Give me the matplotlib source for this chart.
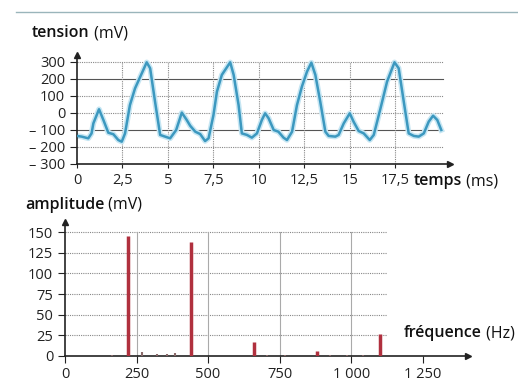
import matplotlib
matplotlib.use("Agg")
import matplotlib.pyplot as plt
from matplotlib.text import Annotation

# ---- data ----
t_ms = [0.0, 0.26, 0.62, 0.80, 0.90, 1.21, 1.45, 1.72, 2.00, 2.27, 2.46, 2.64, 2.91, 3.19, 3.56, 3.83,
        4.02, 4.29, 4.57, 4.84, 5.12, 5.45, 5.76, 6.03, 6.22, 6.50, 6.77, 7.04, 7.23, 7.50, 7.69, 7.96,
        8.42, 8.61, 8.88, 9.06, 9.34, 9.61, 9.89, 10.16, 10.34, 10.53, 10.81, 11.07, 11.35, 11.54, 11.82,
        12.09, 12.36, 12.64, 12.88, 13.10, 13.37, 13.65, 13.83, 14.20, 14.38, 14.66, 14.99, 15.20, 15.48,
        15.76, 16.09, 16.31, 16.68, 17.04, 17.45, 17.68, 17.96, 18.23, 18.51, 18.78, 19.06, 19.33, 19.57,
        19.80, 20.02]
tension_mV = [-135, -139, -149, -120, -61, 22, -41, -116, -125, -159, -169, -120, 47, 145, 233, 298,
              263, 66, -129, -139, -149, -100, 2, -41, -75, -110, -124, -165, -149, -12, 125, 224,
              298, 224, 47, -120, -129, -145, -120, -41, -2, -31, -100, -110, -145, -159, -110,
              47, 155, 243, 296, 224, 66, -110, -135, -139, -129, -61, -2, -51, -106,
              -120, -159, -129, 27, 184, 298, 263, 66, -120, -135, -139, -120, -51, -16,
              -41, -100]

freq_Hz = [220, 440, 660, 880, 1100]
amp_mV = [145, 138, 17, 6, 27]
noise_freq_Hz = [165, 270, 320, 355, 385, 705, 770, 925, 985, 1040]
noise_amp_mV = [1, 4, 2, 2, 3, 1, 1, 1, 1, 1]

top_yticks = [-300, -200, -100, 0, 100, 200, 300]
top_yticklabels = ["– 300", "– 200", "– 100", "0", "100", "200", "300"]
top_xticks = [0, 2.5, 5, 7.5, 10, 12.5, 15, 17.5]
top_xticklabels = ["0", "2,5", "5", "7,5", "10", "12,5", "15", "17,5"]
bot_yticks = [0, 25, 50, 75, 100, 125, 150]
bot_xticks = [0, 250, 500, 750, 1000, 1250]
bot_xticklabels = ["0", "250", "500", "750", "1 000", "1 250"]

plt.rcParams['font.family'] = ['Open Sans', 'DejaVu Sans']

W, H = 518, 385
fig = plt.figure(figsize=(W / 100, H / 100), dpi=100)

def frac(x0, y0, x1, y1):
    return [x0 / W, 1 - y1 / H, (x1 - x0) / W, (y1 - y0) / H]

axcol = "#222222"
fs = 10.5

# ---------- top plot ----------
TX = 20.5
ax1 = fig.add_axes(frac(77, 55, 450, 164))
ax1.set_xlim(0, TX)
ax1.set_ylim(-300, 341)
for v in [-200, 0, 100, 300]:
    ax1.axhline(v, xmax=20.1 / TX, color="#888888", lw=0.8, ls=(0, (1, 1)), zorder=1)
for v in [-100, 200]:
    ax1.axhline(v, xmax=20.1 / TX, color="#555555", lw=0.8, zorder=1)
for v in top_xticks[1:]:
    ax1.axvline(v, ymax=600 / 641, color="#888888", lw=0.8, ls=(0, (1, 1)), zorder=1)
ax1.plot(t_ms, tension_mV, color="#c6e6f3", lw=4.0, solid_joinstyle="round", zorder=2)
ax1.plot(t_ms, tension_mV, color="#3c98bf", lw=1.8, solid_joinstyle="round", zorder=3)
ax1.set_yticks(top_yticks)
ax1.set_yticklabels(top_yticklabels)
ax1.set_xticks(top_xticks)
ax1.set_xticklabels(top_xticklabels)
ax1.tick_params(axis="x", length=3, pad=3.5)

# ---------- bottom plot ----------
FX = 1408
ax2 = fig.add_axes(frac(65, 221.7, 468, 355.7))
ax2.set_xlim(0, FX)
ax2.set_ylim(0, 163)
for v in bot_yticks[1:]:
    ax2.axhline(v, xmax=1125 / FX, color="#888888", lw=0.8, ls=(0, (1, 1)), zorder=1)
for v in bot_xticks[1:5]:
    ax2.axvline(v, ymax=150 / 163, color="#aaaaaa", lw=0.8, zorder=1)
ax2.vlines(freq_Hz, 0, amp_mV, color="#b0303e", lw=2.5, zorder=3)
ax2.vlines(noise_freq_Hz, 0, noise_amp_mV, color="#8a6a6a", lw=1.5, zorder=3)
ax2.set_yticks(bot_yticks)
ax2.set_xticks(bot_xticks)
ax2.set_xticklabels(bot_xticklabels)
ax2.tick_params(axis="x", length=5, pad=3)

for ax in (ax1, ax2):
    for s in ("top", "right"):
        ax.spines[s].set_visible(False)
    for s in ("left", "bottom"):
        ax.spines[s].set_color(axcol)
        ax.spines[s].set_linewidth(1.2)
    ax.tick_params(axis="both", direction="out", width=0.8, colors=axcol, labelsize=fs)
    ax.tick_params(axis="y", length=5, pad=3.5)
    ax.plot(1, 0, ">", color=axcol, ms=5, transform=ax.transAxes, clip_on=False, zorder=5)
    ax.plot(0, 1, "^", color=axcol, ms=4, transform=ax.transAxes, clip_on=False, zorder=5)

# ---------- labels ----------
def label(x, y, bold, normal, size=11.5):
    t1 = fig.text(x / W, 1 - y / H, bold, fontsize=size, fontweight="semibold",
                  color="#111111", va="center", ha="left")
    a = Annotation(" " + normal, xy=(1, 0.5), xycoords=t1, va="center", ha="left",
                   fontsize=size, color="#111111")
    fig.add_artist(a)

label(32, 33, "tension", "(mV)")
label(414, 181, "temps", "(ms)")
label(25, 205, "amplitude", "(mV)")
label(404, 333, "fréquence", "(Hz)")

# decorative top rule
fig.add_artist(plt.Line2D([0.03, 1.0], [1 - 12 / H, 1 - 12 / H], color="#9ab5bb", lw=1.0))

fig.savefig("out.png", dpi=100)
